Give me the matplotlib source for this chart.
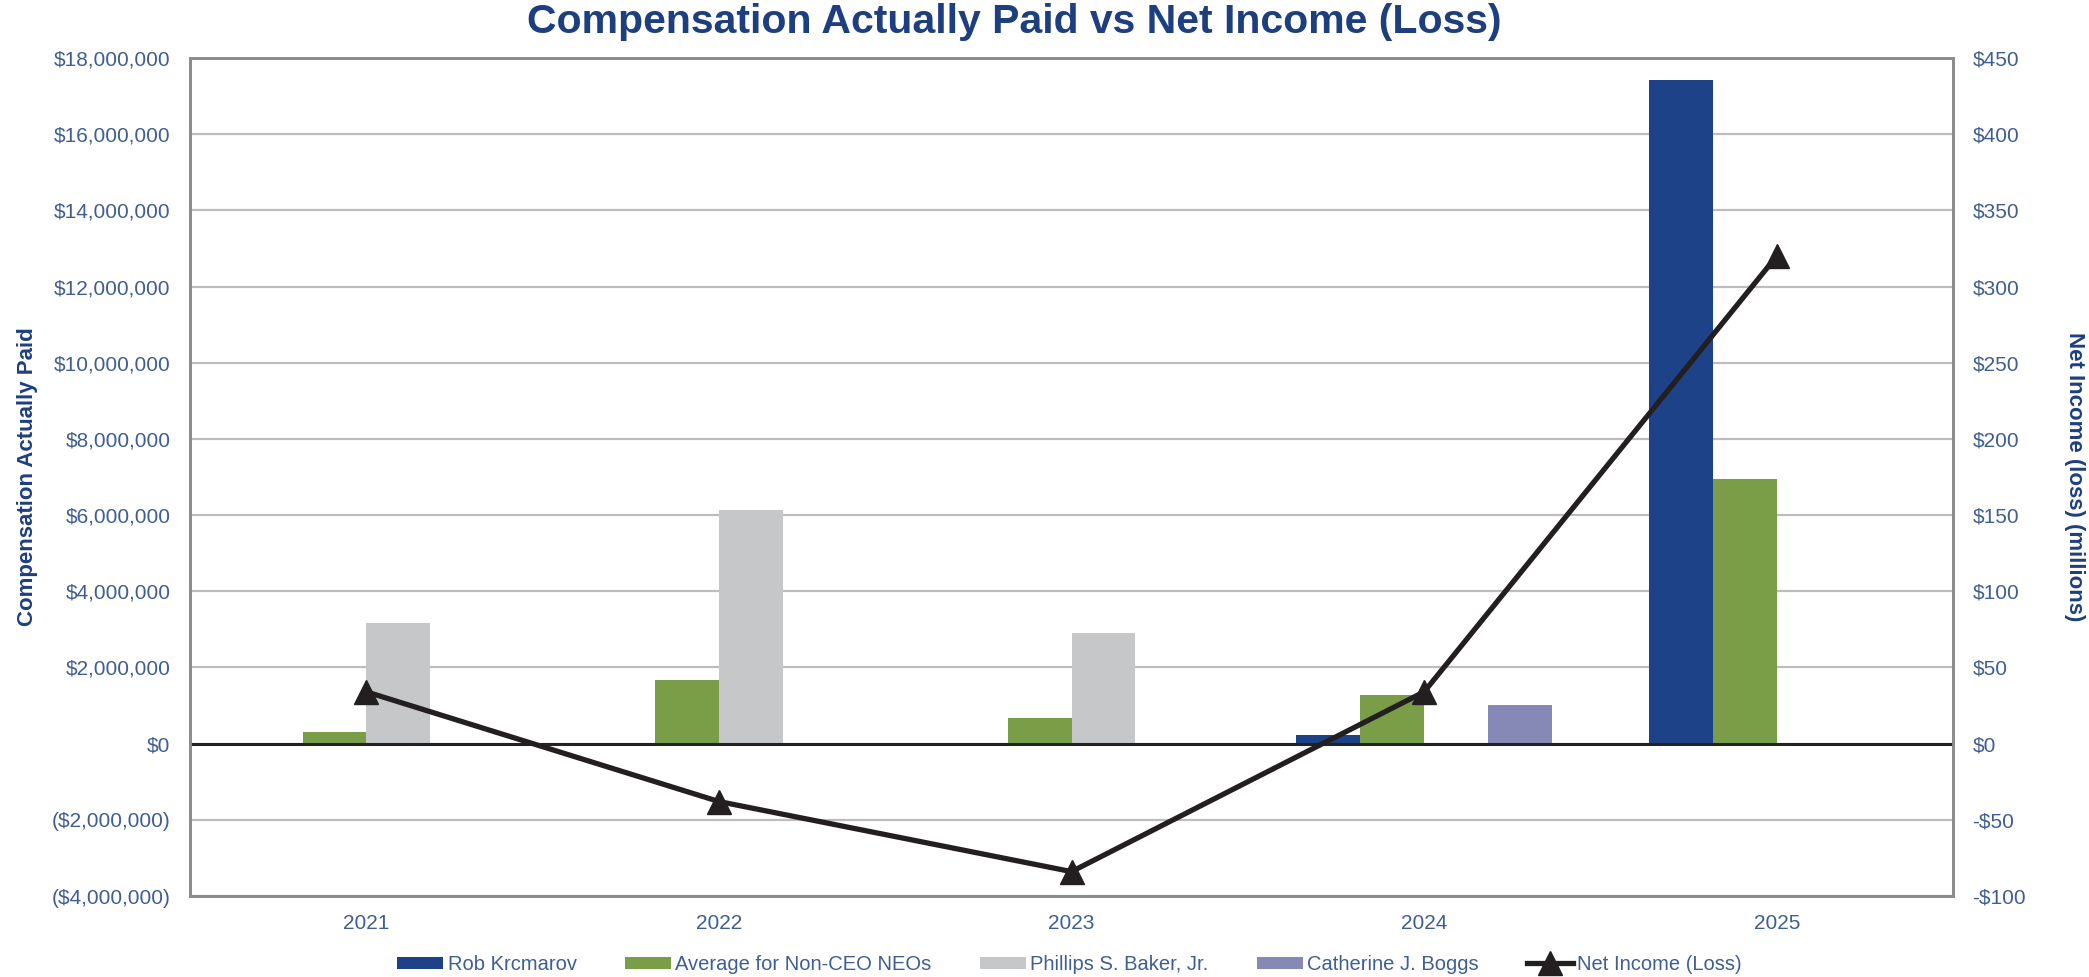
import numpy as np
import matplotlib
matplotlib.use('Agg')
import matplotlib.pyplot as plt
from matplotlib.ticker import FuncFormatter, MultipleLocator

# Data
years = ['2021', '2022', '2023', '2024', '2025']
rob_krcmarov = [0, 0, 0, 220000, 17430000]
avg_non_ceo = [300000, 1665000, 675000, 1275000, 6945000]
phillips_baker = [3175000, 6125000, 2895000, 0, 0]
catherine_boggs = [0, 0, 0, 1010000, 0]
net_income = [34, -38, -84, 34, 320]

series_names = ['Rob Krcmarov', 'Average for Non-CEO NEOs',
                'Phillips S. Baker, Jr.', 'Catherine J. Boggs']
series_values = [rob_krcmarov, avg_non_ceo, phillips_baker, catherine_boggs]
series_colors = ['#1D4287', '#7A9E48', '#C6C7C9', '#8689B6']

TEXT_BLUE = '#3E5E94'
TITLE_BLUE = '#1D3F80'
FONT = 'Liberation Sans'

plt.rcParams['font.family'] = FONT

fig = plt.figure(figsize=(20.89, 9.77), dpi=100)
ax = fig.add_axes([0.0910, 0.0829, 0.8439, 0.8577])
ax2 = ax.twinx()

x = np.arange(len(years))
bar_w = 0.181
offsets = [-1.5, -0.5, 0.5, 1.5]

for vals, name, col, off in zip(series_values, series_names, series_colors, offsets):
    ax.bar(x + off * bar_w, vals, width=bar_w, color=col, label=name, zorder=3)

ax.set_xlim(-0.5, 4.5)
ax.set_ylim(-4000000, 18000000)
ax.yaxis.set_major_locator(MultipleLocator(2000000))
ax.grid(axis='y', color='#BDBDBD', linewidth=1.6, zorder=0)
ax.set_axisbelow(True)
ax.axhline(0, color='#222222', linewidth=2.2, zorder=4)


def left_fmt(v, pos):
    if v < 0:
        return '(${:,.0f})'.format(-v)
    return '${:,.0f}'.format(v)


def right_fmt(v, pos):
    if v < 0:
        return '-${:,.0f}'.format(-v)
    return '${:,.0f}'.format(v)


ax.yaxis.set_major_formatter(FuncFormatter(left_fmt))
ax.set_xticks(x)
ax.set_xticklabels(years)
ax.tick_params(axis='both', length=0, labelsize=15, labelcolor=TEXT_BLUE)
ax.tick_params(axis='x', pad=13)
ax.tick_params(axis='y', pad=14)

# Net income line on right axis
ax2.set_ylim(-100, 450)
ax2.yaxis.set_major_locator(MultipleLocator(50))
ax2.yaxis.set_major_formatter(FuncFormatter(right_fmt))
ax2.tick_params(axis='y', length=0, labelsize=15, labelcolor=TEXT_BLUE, pad=14)
ax2.plot(x, net_income, color='#231F20', linewidth=3.8, marker='^',
         markersize=17, label='Net Income (Loss)', zorder=5)

for a in (ax, ax2):
    for s in a.spines.values():
        s.set_color('#8C8C8C')
        s.set_linewidth(2)

ax.set_ylabel('Compensation Actually Paid', fontsize=16, fontweight='bold',
              color=TITLE_BLUE)
ax.yaxis.set_label_coords(-0.086, 0.5)
ax2.set_ylabel('Net Income (loss) (millions)', fontsize=16, fontweight='bold',
               color=TITLE_BLUE, rotation=270)
ax2.yaxis.set_label_coords(1.075, 0.5)

fig.text(0.4855, 0.977, 'Compensation Actually Paid vs Net Income (Loss)',
         ha='center', va='center', fontsize=29.5, fontweight='bold', color=TITLE_BLUE)

h1, l1 = ax.get_legend_handles_labels()
h2, l2 = ax2.get_legend_handles_labels()
leg = fig.legend(h1 + h2, l1 + l2, loc='center', bbox_to_anchor=(0.512, 0.013),
                 ncol=5, frameon=False, fontsize=14.5, handlelength=2.3,
                 handleheight=0.55, columnspacing=2.4, handletextpad=0.2)
for t in leg.get_texts():
    t.set_color(TEXT_BLUE)

fig.savefig('out.png', dpi=100)
